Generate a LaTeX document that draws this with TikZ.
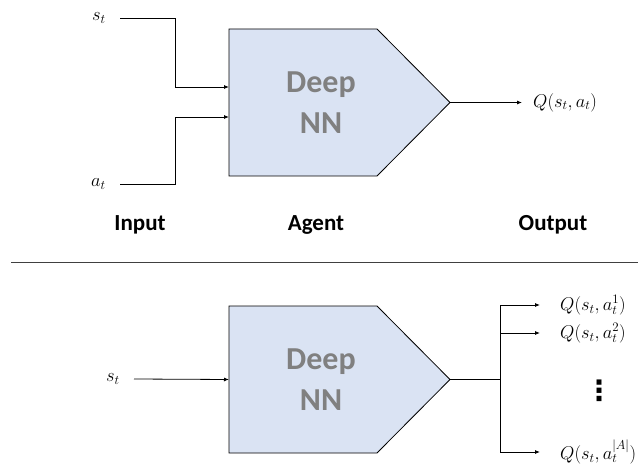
\documentclass[tikz,border=0pt]{standalone}
\usepackage{fix-cm}
\usepackage{fontspec}
\setsansfont{Carlito}
\newfontfamily\symfont{DejaVu Sans}
\usetikzlibrary{arrows.meta}
\definecolor{nnfill}{HTML}{DAE3F3}
\definecolor{nntext}{HTML}{808080}
\tikzstyle{wire}=[draw,line width=0.8pt]
\tikzstyle{conn}=[draw,line width=0.8pt,-{Latex[length=5pt,width=4pt]}]
\tikzstyle{nnbox}=[draw,line width=0.8pt,fill=nnfill]
\tikzstyle{nntxt}=[font=\sffamily\bfseries\fontsize{32}{41}\selectfont,text=nntext,align=center]
\tikzstyle{lbl}=[font=\sffamily\bfseries\fontsize{23}{26}\selectfont]
\tikzstyle{var}=[font=\fontsize{18.5}{20}\selectfont,inner xsep=14pt,inner ysep=0pt]
\tikzstyle{qlbl}=[font=\fontsize{18.5}{20}\selectfont,inner ysep=0pt]

\begin{document}
\begin{tikzpicture}[x=1pt,y=-1pt]
\useasboundingbox (0,0) rectangle (638,468);

	\def\xl{229};
	\def\xf{377};
	\def\xp{450};

% both networks
    \foreach \dy/\nm in {0/top, 277/bot}{
        \draw[nnbox] (\xl,29+\dy) -- (\xf,29+\dy) -- (\xp,102.5+\dy) -- (\xf,176+\dy) -- (\xl,176+\dy) -- cycle;
        \node[nntxt] (\nm-nn) at (321,102.5+\dy) {Deep\\NN};
        \coordinate (\nm-out) at (\xp,102.5+\dy);
    }

%Top inputs
    \node[var,anchor=east] (st) at (120,18) {$s_t$};
    \node[var,anchor=east] (at) at (120,184) {$a_t$};
    \coordinate (in-s) at (\xl,87);
    \coordinate (in-a) at (\xl,117);
    \draw[conn] (st.east) -- ++(55,0) |- (in-s);
    \draw[conn] (at.east) -- ++(55,0) |- (in-a);

%Top output
    \node[qlbl,anchor=west,inner xsep=11pt] (q) at (522,102.5) {$Q(s_t,a_t)$};
    \draw[conn] (top-out) -- (q.west);

% Label
    \foreach \x/\name/\txt in {140/input/Input, 316/agent/Agent, 553/output/Output}
        \node[lbl] (\name) at (\x,225) {\txt};

    \draw[line width=0.8pt,black!75] (11,262) -- (638,262);

%Bottom input
    \node[var,anchor=east] (st2) at (134,379) {$s_t$};
    \coordinate (in-b) at (\xl,379.5);
    \draw[conn] (st2.east) -- (in-b);

%Bottom outputs
    \draw[wire] (bot-out) -- ++(50,0) coordinate (split);
    \foreach \n/\y/\supr in {q1/305/1, q2/333/2, qa/452/{|A|}}
        \node[qlbl,anchor=west,inner xsep=20pt] (\n) at (540,\y) {$Q(s_t,a_t^{\supr})$};
    \foreach \n in {q1,q2,qa}
        \draw[conn] (split) |- (\n.west);
    \node[font=\symfont\bfseries\fontsize{28}{28}\selectfont,inner sep=0pt] (vd) at (599,391) {⋮};

   \end{tikzpicture}
\end{document}
